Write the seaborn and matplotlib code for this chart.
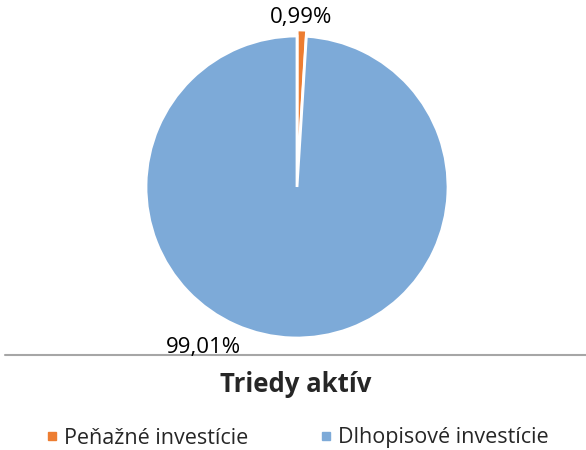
import matplotlib
matplotlib.use("Agg")
import matplotlib.pyplot as plt
import seaborn as sns
from matplotlib.lines import Line2D

categories = ["Peňažné investície", "Dlhopisové investície"]
values = [0.99, 99.01]
labels = ["0,99%", "99,01%"]
title = "Triedy aktív"

sns.set_theme(style="white")
plt.rcParams["font.family"] = ["Open Sans", "DejaVu Sans"]
colors = ["#ED7D31", "#7DAAD8"]

W, H = 586, 450
fig = plt.figure(figsize=(W / 100, H / 100), dpi=100)
cx, cy, r = 297, 187, 151
ax = fig.add_axes([(cx - r) / W, 1 - (cy + r) / H, 2 * r / W, 2 * r / H])
wedges, _ = ax.pie(values, colors=colors, startangle=90, counterclock=False,
                   explode=[0.04, 0], radius=1,
                   wedgeprops=dict(edgecolor="white", linewidth=2))
ax.set_xlim(-1, 1)
ax.set_ylim(-1, 1)
ax.set_aspect("equal")
ax.axis("off")

fig.text(301 / W, 1 - 18 / H, labels[0], ha="center", va="center", fontsize=16, color="#000000")
fig.text(203 / W, 1 - 347 / H, labels[1], ha="center", va="center", fontsize=16, color="#000000")

fig.add_artist(Line2D([5 / W, 1], [1 - 355 / H] * 2, color="#A6A6A6", lw=1.5))
fig.text(296 / W, 1 - 384 / H, title, ha="center", va="center", fontsize=18.5, fontweight="bold")

handles = [Line2D([], [], marker="s", linestyle="", markersize=6, color=c) for c in colors]
fig.legend(handles, categories, loc="center", bbox_to_anchor=(297 / W, 1 - 438 / H), ncol=2,
           frameon=False, fontsize=15.5, handletextpad=0.25, columnspacing=3.3, handlelength=0.6)

fig.savefig("out.png", dpi=100)
